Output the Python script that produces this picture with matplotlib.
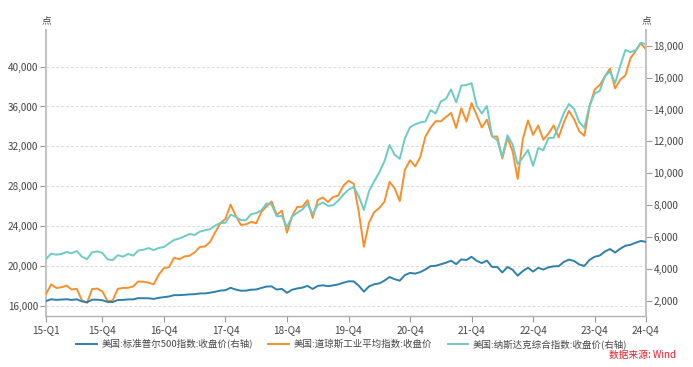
import matplotlib
matplotlib.use("Agg")
import matplotlib.pyplot as plt
from matplotlib.ticker import FuncFormatter

plt.rcParams['font.family'] = ['Noto Sans CJK SC', 'DejaVu Sans']

# Monthly closes, 2015-01 .. 2024-10
sp500 = [1995, 2105, 2068, 2086, 2107, 2063, 2104, 1972, 1920, 2079, 2080, 2044,
         1940, 1932, 2060, 2065, 2097, 2099, 2174, 2171, 2168, 2126, 2199, 2239,
         2279, 2364, 2363, 2384, 2412, 2423, 2470, 2472, 2519, 2575, 2648, 2674,
         2824, 2714, 2641, 2648, 2705, 2718, 2816, 2902, 2914, 2712, 2760, 2507,
         2704, 2784, 2834, 2946, 2752, 2942, 2980, 2926, 2977, 3038, 3141, 3231,
         3226, 2954, 2585, 2912, 3044, 3100, 3271, 3500, 3363, 3270, 3622, 3756,
         3714, 3811, 3973, 4181, 4204, 4298, 4395, 4523, 4308, 4605, 4567, 4766,
         4516, 4374, 4530, 4132, 4132, 3785, 4130, 3955, 3586, 3872, 4080, 3840,
         4077, 3970, 4109, 4169, 4180, 4450, 4589, 4508, 4288, 4194, 4568, 4770,
         4846, 5096, 5254, 5036, 5278, 5460, 5522, 5648, 5762, 5705]

dow = [17165, 18133, 17776, 17841, 18011, 17620, 17690, 16528, 16285, 17664, 17720, 17425,
       16466, 16517, 17685, 17774, 17787, 17930, 18432, 18401, 18308, 18142, 19124, 19763,
       19864, 20812, 20663, 20941, 21009, 21350, 21891, 21948, 22405, 23377, 24272, 24719,
       26149, 25029, 24103, 24163, 24416, 24271, 25415, 25965, 26458, 25116, 25538, 23327,
       24999, 25916, 25929, 26593, 24815, 26600, 26864, 26403, 26917, 27046, 28051, 28538,
       28256, 25409, 21917, 24346, 25383, 25813, 26428, 28430, 27782, 26502, 29639, 30606,
       29983, 30932, 32982, 33875, 34529, 34503, 34935, 35361, 33844, 35820, 34484, 36338,
       35132, 33893, 34678, 32977, 32990, 30775, 32845, 31510, 28726, 32733, 34590, 33147,
       34086, 32657, 33274, 34098, 32908, 34408, 35560, 34722, 33508, 33053, 35951, 37690,
       38150, 38996, 39807, 37816, 38686, 39119, 40843, 41563, 42330, 41763]

nasdaq = [4635, 4964, 4901, 4941, 5070, 4987, 5128, 4777, 4620, 5054, 5109, 5007,
          4614, 4558, 4870, 4775, 4948, 4843, 5162, 5213, 5312, 5189, 5324, 5383,
          5615, 5825, 5912, 6048, 6199, 6140, 6348, 6429, 6496, 6728, 6874, 6903,
          7411, 7273, 7063, 7066, 7442, 7510, 7672, 8110, 8046, 7306, 7331, 6635,
          7282, 7533, 7729, 8095, 7453, 8006, 8175, 7963, 7999, 8292, 8665, 8973,
          9151, 8567, 7700, 8890, 9490, 10059, 10745, 11775, 11168, 10912, 12199, 12888,
          13071, 13192, 13247, 13962, 13749, 14504, 14673, 15259, 14449, 15498, 15538, 15645,
          14240, 13751, 14221, 12335, 12081, 11029, 12391, 11816, 10576, 10988, 11468, 10466,
          11585, 11456, 12222, 12227, 12935, 13788, 14346, 14035, 13219, 12851, 14226, 15011,
          15164, 16092, 16379, 15658, 16735, 17733, 17599, 17714, 18189, 18095]

tick_idx = [0, 11, 23, 35, 47, 59, 71, 83, 95, 107, 117]
tick_labels = ['15-Q1', '15-Q4', '16-Q4', '17-Q4', '18-Q4', '19-Q4', '20-Q4',
               '21-Q4', '22-Q4', '23-Q4', '24-Q4']

left_ticks = [16000, 20000, 24000, 28000, 32000, 36000, 40000]
right_ticks = [2000, 4000, 6000, 8000, 10000, 12000, 14000, 16000, 18000]

labels = ['美国:标准普尔500指数:收盘价(右轴)', '美国:道琼斯工业平均指数:收盘价',
          '美国:纳斯达克综合指数:收盘价(右轴)']
c_sp, c_dow, c_nas = '#2f80ad', '#f7902c', '#6dcbc6'

x = list(range(len(dow)))

fig = plt.figure(figsize=(6.93, 3.67), dpi=100)
ax = fig.add_axes([0.0664, 0.140, 0.8656, 0.778])
ax2 = ax.twinx()

l2, = ax.plot(x, dow, color=c_dow, lw=1.4, zorder=3)
l1, = ax2.plot(x, sp500, color=c_sp, lw=1.4, zorder=3)
l3, = ax2.plot(x, nasdaq, color=c_nas, lw=1.4, zorder=2)

ax.set_xlim(0, len(x) - 1)
ax.set_ylim(15000, 43670)
ax2.set_ylim(1080, 18980)

fmt = FuncFormatter(lambda v, p: f'{int(v):,}')
ax.set_yticks(left_ticks)
ax.yaxis.set_major_formatter(fmt)
ax2.set_yticks(right_ticks)
ax2.yaxis.set_major_formatter(fmt)
ax.set_xticks(tick_idx)
ax.set_xticklabels(tick_labels)

ax.grid(axis='y', color='#dcdcdc', ls=(0, (3, 2)), lw=0.7)
ax.set_axisbelow(True)

for a in (ax, ax2):
    for s in ('top',):
        a.spines[s].set_visible(False)
    a.tick_params(labelsize=7.2, colors='#555555', length=4, width=0.8, pad=1.5)
    a.tick_params(axis='y', labelcolor='#444444')
ax.tick_params(axis='x', labelcolor='#444444', pad=3)
ax.spines['left'].set_color('#c4c4c4')
ax.spines['left'].set_linewidth(1.5)
ax.spines['bottom'].set_color('#b0b0b0')
ax.spines['bottom'].set_linewidth(1.0)
ax.spines['right'].set_visible(False)
ax2.spines['left'].set_visible(False)
ax2.spines['bottom'].set_visible(False)
ax2.spines['right'].set_color('#c4c4c4')
ax2.spines['right'].set_linewidth(1.5)
ax.tick_params(axis='y', colors='#9a9a9a', labelcolor='#444444')
ax2.tick_params(axis='y', colors='#9a9a9a', labelcolor='#444444')
ax.tick_params(axis='x', colors='#9a9a9a', labelcolor='#444444')

fig.text(46 / 693, 1 - 20 / 367, '点', fontsize=7, color='#444444', ha='center', va='center')
fig.text(646 / 693, 1 - 20 / 367, '点', fontsize=7, color='#444444', ha='center', va='center')

fig.legend([l1, l2, l3], labels, loc='center', bbox_to_anchor=(352 / 693, 1 - 344 / 367),
           ncol=3, frameon=False, fontsize=6.8, handlelength=2.2, handletextpad=0.5,
           columnspacing=1.6, labelcolor='#444444')
fig.text(676 / 693, 1 - 355 / 367, '数据来源: Wind', fontsize=7, color='#e8202a',
         ha='right', va='center')

fig.savefig('out.png', dpi=100)
